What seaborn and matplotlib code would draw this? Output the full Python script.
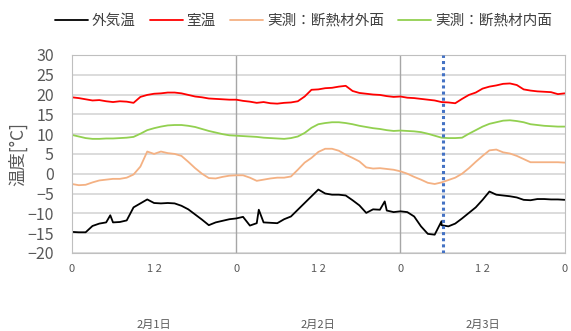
import numpy as np
import pandas as pd
import seaborn as sns
import matplotlib
matplotlib.use("Agg")
import matplotlib.pyplot as plt
import matplotlib.transforms as mtransforms

# 時刻 (0〜72時間, 1時間ごと)
hours = list(range(0, 73))

# 外気温
outdoor = [-14.7, -14.8, -14.8, -13.2, -12.6, -12.3, -12.3, -12.2, -11.8, -8.5, -7.5, -6.5,
           -7.4, -7.5, -7.4, -7.5, -8.1, -9.0, -10.3, -11.6, -13.0, -12.3, -11.9, -11.5,
           -11.3, -10.9, -13.1, -12.5, -12.3, -12.4, -12.5, -11.5, -10.8, -9.1, -7.4, -5.7,
           -4.0, -5.0, -5.3, -5.3, -5.5, -6.7, -8.0, -9.9, -9.0, -9.1, -9.3, -9.7,
           -9.5, -9.7, -10.8, -13.3, -15.2, -15.4, -13.0, -13.3, -12.6, -11.3, -9.9, -8.5,
           -6.6, -4.5, -5.3, -5.5, -5.7, -6.0, -6.6, -6.7, -6.4, -6.4, -6.5, -6.5, -6.6]
# 外気温のスパイク
spike_hours = [5.6, 27.3, 45.7, 54.0]
spike_values = [-10.5, -9.1, -7.0, -12.0]

# 室温
room = [19.3, 19.1, 18.8, 18.5, 18.6, 18.3, 18.1, 18.3, 18.2, 17.9, 19.4, 19.9,
        20.2, 20.3, 20.5, 20.5, 20.3, 19.9, 19.5, 19.3, 19.0, 18.9, 18.8, 18.7,
        18.7, 18.4, 18.2, 17.9, 18.1, 17.8, 17.7, 17.9, 18.0, 18.3, 19.5, 21.2,
        21.3, 21.6, 21.7, 22.0, 22.2, 20.9, 20.4, 20.2, 20.0, 19.9, 19.6, 19.4,
        19.5, 19.2, 19.1, 18.9, 18.7, 18.5, 18.1, 18.0, 17.8, 18.9, 19.9, 20.5,
        21.5, 22.0, 22.3, 22.7, 22.8, 22.4, 21.3, 21.0, 20.8, 20.7, 20.6, 20.1, 20.3]

# 実測：断熱材外面
outer_surface = [-2.6, -2.9, -2.8, -2.2, -1.7, -1.5, -1.3, -1.3, -1.0, -0.2, 1.8, 5.6,
                 5.0, 5.6, 5.2, 5.0, 4.5, 3.0, 1.4, 0.0, -1.1, -1.2, -0.8, -0.5,
                 -0.4, -0.4, -1.0, -1.8, -1.5, -1.2, -1.0, -1.0, -0.7, 1.0, 2.8, 4.0,
                 5.5, 6.3, 6.3, 5.8, 4.8, 4.0, 3.1, 1.6, 1.3, 1.4, 1.2, 1.0,
                 0.6, 0.0, -0.8, -1.5, -2.3, -2.6, -2.2, -1.6, -1.0, 0.0, 1.4, 3.0,
                 4.5, 5.9, 6.1, 5.4, 5.1, 4.5, 3.7, 2.9, 2.9, 2.9, 2.9, 2.9, 2.8]

# 実測：断熱材内面
inner_surface = [9.8, 9.4, 9.0, 8.8, 8.8, 8.9, 8.9, 9.0, 9.1, 9.3, 10.1, 11.0,
                 11.5, 11.9, 12.2, 12.3, 12.3, 12.1, 11.8, 11.3, 10.8, 10.4, 10.0, 9.7,
                 9.6, 9.5, 9.4, 9.3, 9.1, 9.0, 8.9, 8.8, 9.0, 9.4, 10.3, 11.6,
                 12.5, 12.8, 13.0, 13.0, 12.8, 12.5, 12.1, 11.8, 11.5, 11.3, 11.0, 10.8,
                 10.9, 10.8, 10.7, 10.5, 10.1, 9.6, 9.1, 9.0, 9.0, 9.1, 10.1, 11.0,
                 11.9, 12.6, 13.0, 13.4, 13.5, 13.3, 13.0, 12.5, 12.3, 12.1, 12.0, 11.9, 11.9]

series_names = ["外気温", "室温", "実測：断熱材外面", "実測：断熱材内面"]
series_colors = ["#000000", "#FF0000", "#F4B183", "#92D050"]

hour_ticks = [0, 12, 24, 36, 48, 60, 72]
hour_labels = ["0", "1 2", "0", "1 2", "0", "1 2", "0"]
day_labels = ["2月1日", "2月2日", "2月3日"]
day_centers = [12, 36, 60]
marker_hour = 54.15

# データフレーム
out_df = pd.DataFrame({"時刻": hours + spike_hours, "温度": outdoor + spike_values})
out_df = out_df.sort_values("時刻")
out_df["系列"] = series_names[0]
frames = [out_df]
for name, vals in zip(series_names[1:], [room, outer_surface, inner_surface]):
    frames.append(pd.DataFrame({"時刻": hours, "温度": vals, "系列": name}))
df = pd.concat(frames, ignore_index=True)

sns.set_style("white")
plt.rcParams["font.family"] = ["Noto Sans CJK JP", "DejaVu Sans"]

fig = plt.figure(figsize=(5.71, 3.31), dpi=100)
ax = fig.add_axes([0.126, 0.236, 0.863, 0.598])

for y in range(-20, 35, 5):
    ax.axhline(y, color="#D9D9D9", lw=1.3, zorder=0)
for d in [24, 48]:
    ax.axvline(d, color="#A6A6A6", lw=1.0, zorder=0)

sns.lineplot(data=df, x="時刻", y="温度", hue="系列", hue_order=series_names,
             palette=series_colors, linewidth=1.3, estimator=None, sort=False, ax=ax)

ax.axvline(marker_hour, color="#4472C4", lw=2.2, ls=(0, (1, 1)), zorder=5)

ax.set_xlim(0, 72)
ax.set_ylim(-20, 30)
ax.set_yticks(range(-20, 35, 5))
ax.set_xticks(hour_ticks)
ax.set_xticklabels(hour_labels)
ax.tick_params(axis="y", labelsize=11.5, colors="#595959", length=0, pad=13)
ax.tick_params(axis="x", labelsize=8, colors="#595959", length=0, pad=8)
ax.set_xlabel("")
ax.set_ylabel("温度[°C]", fontsize=12.5, color="#595959", labelpad=0)
for s in ax.spines.values():
    s.set_color("#BFBFBF")

trans = mtransforms.blended_transform_factory(ax.transData, ax.transAxes)
for c, lab in zip(day_centers, day_labels):
    ax.text(c, -0.365, lab, transform=trans, ha="center", va="center",
            fontsize=8, color="#595959")

ax.legend(loc="lower center", bbox_to_anchor=(0.47, 1.07), ncol=4, frameon=False,
          fontsize=10.5, handlelength=2.25, columnspacing=1.0, handletextpad=0.25,
          labelcolor="#404040")

fig.savefig("out.png", dpi=100)
